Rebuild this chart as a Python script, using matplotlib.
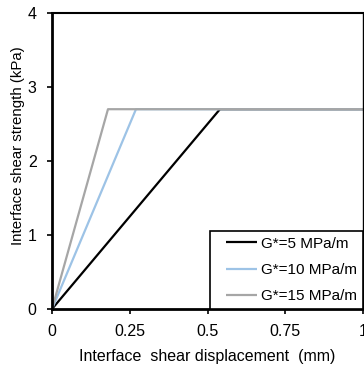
import matplotlib
matplotlib.use("Agg")
import matplotlib.pyplot as plt
from matplotlib.lines import Line2D
from matplotlib.legend_handler import HandlerLine2D

plt.rcParams['font.family'] = ['Liberation Sans', 'DejaVu Sans']

labels = ["G*=5 MPa/m", "G*=10 MPa/m", "G*=15 MPa/m"]
colors = ["#000000", "#9DC3E6", "#A6A6A6"]
x_series = [[0, 0.54, 1.0], [0, 0.27, 1.0], [0, 0.18, 1.0]]
y_series = [[0, 2.7, 2.7], [0, 2.7, 2.7], [0, 2.7, 2.7]]
xticks = [0, 0.25, 0.5, 0.75, 1]
xticklabels = ["0", "0.25", "0.5", "0.75", "1"]
yticks = [0, 1, 2, 3, 4]

W, H = 364, 367
fig = plt.figure(figsize=(W/100, H/100), dpi=100)
ax = fig.add_axes([52/W, 1-309/H, (363-52)/W, (309-13)/H])
for xs, ys, c, l in zip(x_series, y_series, colors, labels):
    ax.plot(xs, ys, color=c, lw=1.6, label=l, solid_capstyle='butt')
ax.set_xlim(0, 1)
ax.set_ylim(0, 4)
ax.set_xticks(xticks)
ax.set_xticklabels(xticklabels)
ax.set_yticks(yticks)
ax.tick_params(direction='out', length=3.6, width=1.2, labelsize=11.5, colors='#000000')
ax.tick_params(axis='x', pad=7)
ax.tick_params(axis='y', pad=7.5)
ax.spines['left'].set_linewidth(2)
ax.spines['bottom'].set_linewidth(2)
ax.spines['top'].set_linewidth(1.5)
ax.spines['right'].set_linewidth(1)
ax.set_xlabel("Interface  shear displacement  (mm)", fontsize=11.5)
ax.xaxis.label.set_va('center')
ax.xaxis.set_label_coords(0.5, -(356-309)/296)
ax.set_ylabel("Interface shear strength (kPa)", fontsize=10.8)
ax.yaxis.label.set_va('center')
ax.yaxis.set_label_coords((18.5-52)/311, (309-146)/296)
leg = ax.legend(loc='lower right', frameon=True, fancybox=False, fontsize=11,
                borderaxespad=0, handlelength=2.65, handletextpad=0.3,
                labelspacing=0.8, borderpad=0.38,
                edgecolor='black', framealpha=1,
                handler_map={Line2D: HandlerLine2D(xpad=0.62)})
leg.get_frame().set_linewidth(1.2)
fig.savefig("out.png", dpi=100)
